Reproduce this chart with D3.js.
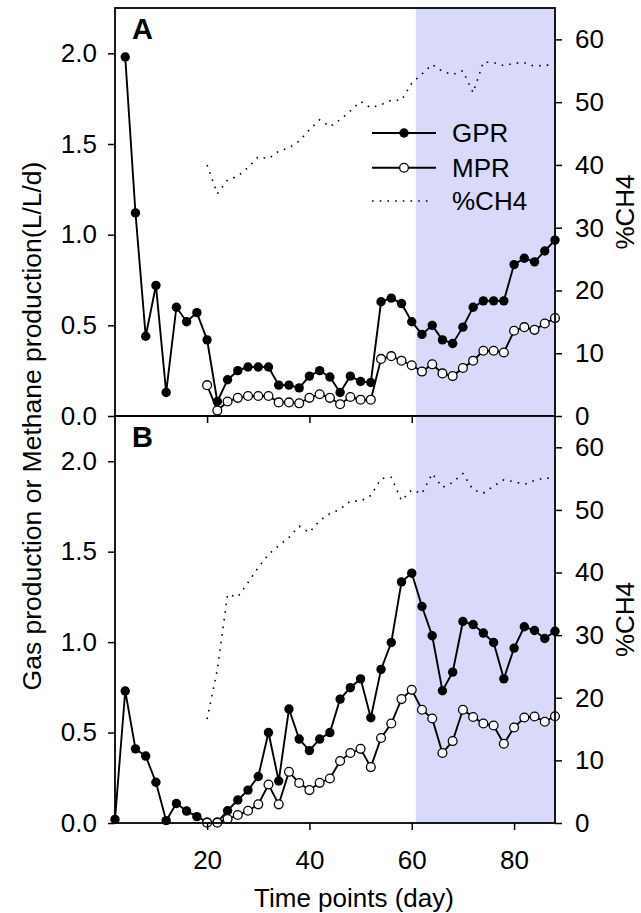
<!DOCTYPE html>
<html>
<head>
<meta charset="utf-8">
<script src="https://cdn.jsdelivr.net/npm/d3@7"></script>
<style>
  body { margin: 0; background: #fff; }
  text { font-family: "Liberation Sans", Arial, sans-serif; }
</style>
</head>
<body>
<script>
'use strict';

// panel A
var daysGprA = [4,6,8,10,12,14,16,18,20,22,24,26,28,30,32,34,36,38,40,42,44,46,48,50,52,54,56,58,60,62,64,66,68,70,72,74,76,78,80,82,84,86,88];
var gprA = [1.98,1.12,0.44,0.72,0.13,0.60,0.52,0.57,0.42,0.08,0.20,0.25,0.27,0.27,0.27,0.17,0.17,0.155,0.22,0.25,0.215,0.13,0.22,0.19,0.185,0.63,0.65,0.62,0.52,0.45,0.50,0.42,0.40,0.49,0.60,0.635,0.635,0.635,0.835,0.87,0.85,0.91,0.97];
var daysA = [20,22,24,26,28,30,32,34,36,38,40,42,44,46,48,50,52,54,56,58,60,62,64,66,68,70,72,74,76,78,80,82,84,86,88];
var mprA = [0.17,0.03,0.08,0.10,0.11,0.11,0.11,0.075,0.075,0.07,0.10,0.12,0.10,0.065,0.105,0.09,0.09,0.315,0.33,0.305,0.28,0.245,0.285,0.235,0.22,0.265,0.305,0.36,0.36,0.35,0.47,0.49,0.475,0.51,0.54];
var ch4A = [40,35.4,37.6,38.2,39.6,41.3,41.0,42.2,42.7,43.8,45.6,47.2,46.1,47.2,48.6,50.1,49.1,49.6,50.3,50.3,53,54.5,56,54.9,54.4,55,51.5,56.4,56.3,55.8,56.2,56.3,55.7,55.9,55.9];

// panel B
var daysGprB = [2,4,6,8,10,12,14,16,18,20,22,24,26,28,30,32,34,36,38,40,42,44,46,48,50,52,54,56,58,60,62,64,66,68,70,72,74,76,78,80,82,84,86,88];
var gprB = [0.02,0.73,0.41,0.37,0.225,0.013,0.108,0.066,0.035,0.005,0.005,0.068,0.127,0.182,0.257,0.50,0.232,0.63,0.464,0.40,0.464,0.50,0.685,0.748,0.797,0.582,0.849,0.998,1.333,1.381,1.197,1.035,0.731,0.834,1.114,1.097,1.05,0.998,0.797,0.967,1.085,1.064,1.02,1.06];
var daysB = [20,22,24,26,28,30,32,34,36,38,40,42,44,46,48,50,52,54,56,58,60,62,64,66,68,70,72,74,76,78,80,82,84,86,88];
var mprB = [0.002,0.002,0.022,0.044,0.068,0.103,0.213,0.103,0.283,0.221,0.182,0.222,0.246,0.343,0.387,0.41,0.309,0.47,0.55,0.685,0.736,0.626,0.578,0.387,0.453,0.626,0.586,0.55,0.539,0.438,0.528,0.583,0.589,0.56,0.59];
var ch4B = [16.6,24.5,36.5,36.1,38.4,40.8,42.9,44.3,45.6,47.4,46.4,48.3,49.4,50.1,51.4,51.4,52.3,55.0,55.2,51.5,53.2,52.6,55.8,53.6,54.4,55.8,53.2,52.7,53.8,54.8,54.5,54.1,54.7,55.1,55.0];

var xTicks = [20,40,60,80];
var leftTicks = [0,0.5,1.0,1.5,2.0];
var rightTicks = [0,10,20,30,40,50,60];
var shadeStart = 60.8;
var legendNames = ["GPR","MPR","%CH4"];

var width = 641, height = 913;
var left = 115, right = 555;

var svg = d3.select("body").append("svg")
    .attr("width", width)
    .attr("height", height);

var x = d3.scaleLinear().domain([2, 88]).range([left, right]);

var panels = [
  {top: 8, bottom: 416, label: "A", gpr: gprA, gprDays: daysGprA, mpr: mprA, ch4: ch4A, days: daysA},
  {top: 416, bottom: 823, label: "B", gpr: gprB, gprDays: daysGprB, mpr: mprB, ch4: ch4B, days: daysB}
];

panels.forEach(function(p, i) {
  var yL = d3.scaleLinear().domain([0, 2.25]).range([p.bottom, p.top]);
  var yR = d3.scaleLinear().domain([0, 65]).range([p.bottom, p.top]);
  var g = svg.append("g");

  // shaded phase
  g.append("rect")
    .attr("x", x(shadeStart))
    .attr("y", p.top)
    .attr("width", x(88) - x(shadeStart))
    .attr("height", p.bottom - p.top)
    .attr("fill", "#d9d9fa");

  var line = d3.line()
    .x(function(d) { return x(d[0]); })
    .y(function(d) { return yL(d[1]); });
  var lineR = d3.line()
    .x(function(d) { return x(d[0]); })
    .y(function(d) { return yR(d[1]); });

  var gprPts = p.gprDays.map(function(d, j) { return [d, p.gpr[j]]; });
  var mprPts = p.days.map(function(d, j) { return [d, p.mpr[j]]; });
  var ch4Pts = p.days.map(function(d, j) { return [d, p.ch4[j]]; });

  g.append("path")
    .attr("d", lineR(ch4Pts))
    .attr("fill", "none")
    .attr("stroke", "#000")
    .attr("stroke-width", 1.6)
    .attr("stroke-dasharray", "1.6,6.1");

  g.append("path")
    .attr("d", line(gprPts))
    .attr("fill", "none")
    .attr("stroke", "#000")
    .attr("stroke-width", 1.9);
  g.selectAll(".gpr").data(gprPts).enter().append("circle")
    .attr("cx", function(d) { return x(d[0]); })
    .attr("cy", function(d) { return yL(d[1]); })
    .attr("r", 4.7)
    .attr("fill", "#000");

  g.append("path")
    .attr("d", line(mprPts))
    .attr("fill", "none")
    .attr("stroke", "#000")
    .attr("stroke-width", 1.9);
  g.selectAll(".mpr").data(mprPts).enter().append("circle")
    .attr("cx", function(d) { return x(d[0]); })
    .attr("cy", function(d) { return yL(d[1]); })
    .attr("r", 4.4)
    .attr("fill", "#fff")
    .attr("stroke", "#000")
    .attr("stroke-width", 1.3);

  // axes
  var ax = g.append("g").attr("transform", "translate(" + left + ",0)")
    .call(d3.axisLeft(yL).tickValues(leftTicks).tickFormat(d3.format(".1f")).tickSize(7).tickPadding(11));
  var ar = g.append("g").attr("transform", "translate(" + right + ",0)")
    .call(d3.axisRight(yR).tickValues(rightTicks).tickSize(7).tickPadding(13));
  var ab = g.append("g").attr("transform", "translate(0," + p.bottom + ")")
    .call(d3.axisBottom(x).tickValues(xTicks).tickSize(7).tickPadding(21)
      .tickFormat(i === 1 ? d3.format("d") : ""));
  [ax, ar, ab].forEach(function(a) {
    a.select(".domain").remove();
    a.selectAll("line").attr("stroke-width", 1.5);
    a.selectAll("text").attr("font-size", 26).attr("fill", "#000")
      .style("font-family", '"Liberation Sans", Arial, sans-serif');
  });

  g.append("rect")
    .attr("x", left).attr("y", p.top)
    .attr("width", right - left).attr("height", p.bottom - p.top)
    .attr("fill", "none").attr("stroke", "#000").attr("stroke-width", 1.8);

  g.append("text")
    .attr("x", 132).attr("y", p.top + 30.5)
    .attr("font-size", 29).attr("font-weight", "bold")
    .text(p.label);

  g.append("text")
    .attr("transform", "translate(634," + ((p.top + p.bottom) / 2) + ") rotate(-90)")
    .attr("text-anchor", "middle")
    .attr("font-size", 26)
    .text("%CH4");
});

// legend in panel A
var legY = [133, 167.7, 201];
var leg = svg.append("g");
legendNames.forEach(function(name, i) {
  var y = legY[i];
  var ln = leg.append("line")
    .attr("x1", 372).attr("y1", y).attr("y2", y)
    .attr("stroke", "#000");
  if (i < 2) {
    ln.attr("x2", 436).attr("stroke-width", 1.9);
    leg.append("circle").attr("cx", 404).attr("cy", y).attr("r", i === 0 ? 4.7 : 4.4)
      .attr("fill", i === 0 ? "#000" : "#fff")
      .attr("stroke", "#000").attr("stroke-width", i === 0 ? 0 : 1.3);
  } else {
    ln.attr("x2", 430).attr("stroke-width", 1.6).attr("stroke-dasharray", "1.6,6.1");
  }
  leg.append("text")
    .attr("x", 452).attr("y", y + 9.4)
    .attr("font-size", 26)
    .text(name);
});

svg.append("text")
  .attr("x", 354).attr("y", 907)
  .attr("text-anchor", "middle")
  .attr("font-size", 26)
  .text("Time points (day)");

svg.append("text")
  .attr("transform", "translate(41,426) rotate(-90)")
  .attr("text-anchor", "middle")
  .attr("font-size", 26.5)
  .text("Gas production or Methane production(L/L/d)");
</script>
</body>
</html>
